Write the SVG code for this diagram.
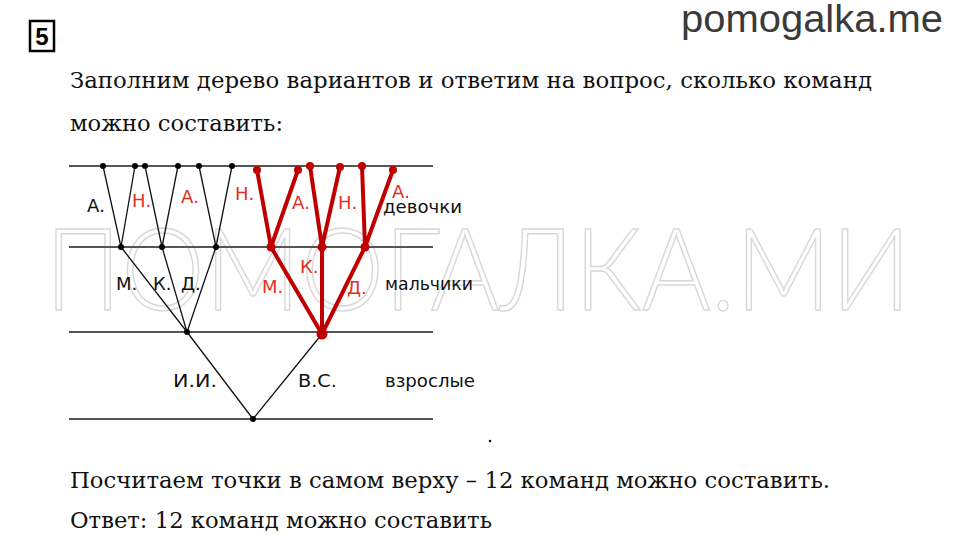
<svg xmlns="http://www.w3.org/2000/svg" width="960" height="539" viewBox="0 0 960 539">
<style>
.txt{font-family:"DejaVu Serif","Liberation Serif",serif;font-size:22px;fill:#111}
.lbl{font-family:"DejaVu Sans","Liberation Sans",sans-serif;font-size:18px;fill:#111}
.rl{font-family:"DejaVu Sans","Liberation Sans",sans-serif;font-size:18px;fill:#e2301e}
.lvl{stroke:#555;stroke-width:2.2;fill:none}
.bk{stroke:#111;stroke-width:1.3;fill:none}
.rd{stroke:#c00000;stroke-width:4;fill:none;stroke-linecap:round}
.bd{fill:#000}
.rdot{fill:#c00000}
.wm{font-family:"Lato","Open Sans","DejaVu Sans",sans-serif;font-weight:300;font-size:114px;fill:none;stroke:#d8d8d8;stroke-width:1.5}
</style>
<rect width="960" height="539" fill="#fff"/>
<g id="watermark"><text class="wm" x="45" y="310" textLength="866" lengthAdjust="spacingAndGlyphs">ПОМОГАЛКА.МИ</text></g>
<g id="header">
<rect x="30" y="21" width="24" height="30" fill="none" stroke="#000" stroke-width="2.5"/>
<text x="42" y="45" text-anchor="middle" style="font-family:'Liberation Sans',sans-serif;font-weight:bold;font-size:24px">5</text>
<text x="681" y="32" textLength="262" lengthAdjust="spacingAndGlyphs" style="font-family:'Liberation Sans',Arial,sans-serif;font-size:38px;fill:#3a3a3a">pomogalka.me</text>
<text class="txt" x="70" y="88" textLength="802" lengthAdjust="spacingAndGlyphs">Заполним дерево вариантов и ответим на вопрос, сколько команд</text>
<text class="txt" x="70" y="131" textLength="213" lengthAdjust="spacingAndGlyphs">можно составить:</text>
</g>
<g id="levels">
<line class="lvl" x1="69" y1="166" x2="433" y2="166"/>
<line class="lvl" x1="69" y1="247" x2="433" y2="247"/>
<line class="lvl" x1="69" y1="332" x2="433" y2="332"/>
<line class="lvl" x1="69" y1="419" x2="433" y2="419"/>
</g>
<g id="connectors">
<path class="bk" d="M121,247 L103,166 M121,247 L135,166 M162,247 L145,166 M162,247 L178,166 M216,247 L199,166 M216,247 L232,166"/>
<path class="bk" d="M187,332 L121,247 M187,332 L162,247 M187,332 L216,247"/>
<path class="bk" d="M253,419 L187,332 M253,419 L322,334"/>
<path class="rd" d="M322,334 L271,247 M322,334 L322,247 M322,334 L365,247"/>
<path class="rd" d="M271,247 L257,170 M271,247 L298,170 M322,247 L310,166 M322,247 L340,167 M365,247 L362,166 M365,247 L393,170"/>
</g>
<g id="node-root"><circle class="bd" cx="253" cy="419" r="3"/><text class="lbl" x="173" y="387" textLength="44" lengthAdjust="spacingAndGlyphs">И.И.</text><text class="lbl" x="298" y="387" textLength="39" lengthAdjust="spacingAndGlyphs">В.С.</text></g>
<g id="node-ii"><circle class="bd" cx="187" cy="332" r="3"/><text class="lbl" x="116" y="290">М.</text><text class="lbl" x="153" y="290">К.</text><text class="lbl" x="181" y="290">Д.</text></g>
<g id="node-vs"><circle class="rdot" cx="322" cy="334" r="5.5"/><text class="rl" x="262" y="293">М.</text><text class="rl" x="300" y="273">К.</text><text class="rl" x="347" y="294">Д.</text></g>
<g id="node-ii-m"><circle class="bd" cx="121" cy="247" r="3"/><circle class="bd" cx="103" cy="166" r="3"/><circle class="bd" cx="135" cy="166" r="3"/><text class="lbl" x="87" y="212">А.</text><text class="rl" x="132" y="207">Н.</text></g>
<g id="node-ii-k"><circle class="bd" cx="162" cy="247" r="3"/><circle class="bd" cx="145" cy="166" r="3"/><circle class="bd" cx="178" cy="166" r="3"/><text class="rl" x="181" y="203">А.</text></g>
<g id="node-ii-d"><circle class="bd" cx="216" cy="247" r="3"/><circle class="bd" cx="199" cy="166" r="3"/><circle class="bd" cx="232" cy="166" r="3"/><text class="rl" x="235" y="200">Н.</text></g>
<g id="node-vs-m"><circle class="rdot" cx="271" cy="247" r="4.5"/><circle class="rdot" cx="257" cy="170" r="4"/><circle class="rdot" cx="298" cy="170" r="4"/><text class="rl" x="292" y="209">А.</text></g>
<g id="node-vs-k"><circle class="rdot" cx="322" cy="247" r="4.5"/><circle class="rdot" cx="310" cy="166" r="4"/><circle class="rdot" cx="340" cy="167" r="4"/><text class="rl" x="338" y="209">Н.</text></g>
<g id="node-vs-d"><circle class="rdot" cx="365" cy="247" r="4.5"/><circle class="rdot" cx="362" cy="166" r="4"/><circle class="rdot" cx="393" cy="170" r="4"/><text class="rl" x="392" y="198">А.</text></g>
<g id="row-labels">
<text class="lbl" x="383" y="213" textLength="79" lengthAdjust="spacingAndGlyphs">девочки</text>
<text class="lbl" x="385" y="290" textLength="88" lengthAdjust="spacingAndGlyphs">мальчики</text>
<text class="lbl" x="385" y="387" textLength="90" lengthAdjust="spacingAndGlyphs">взрослые</text>
</g>
<g id="footer">
<circle cx="490" cy="441" r="1.2" fill="#000"/>
<text class="txt" x="70" y="488" textLength="760" lengthAdjust="spacingAndGlyphs">Посчитаем точки в самом верху – 12 команд можно составить.</text>
<text class="txt" x="70" y="528" textLength="422" lengthAdjust="spacingAndGlyphs">Ответ: 12 команд можно составить</text>
</g>
</svg>
